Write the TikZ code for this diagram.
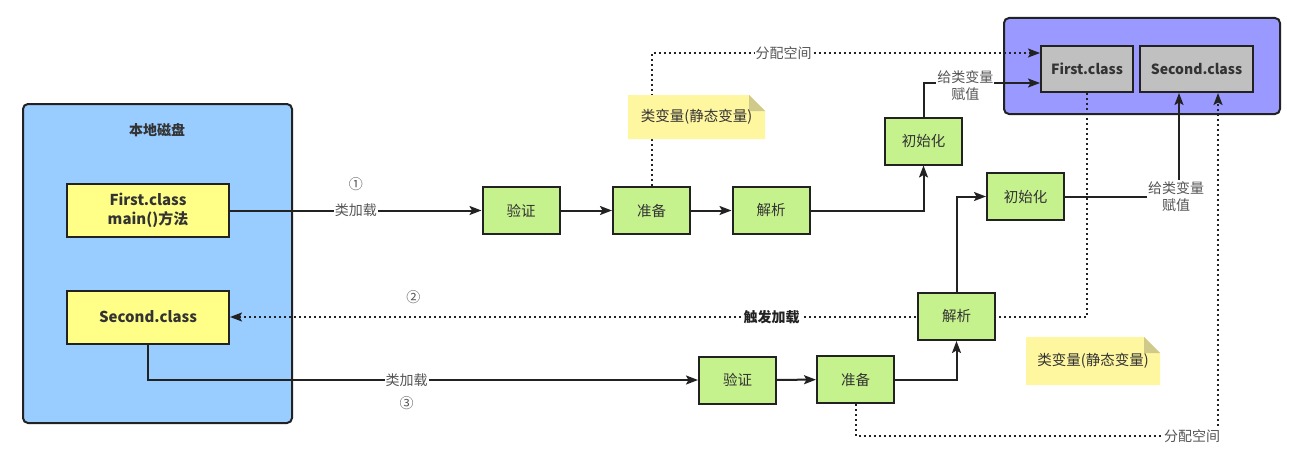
\documentclass[tikz,border=0pt]{standalone}
\usepackage{fontspec}
\setmainfont{Noto Sans CJK SC}
\usetikzlibrary{arrows.meta}
\pgfdeclarelayer{bg}
\pgfdeclarelayer{edges}
\pgfsetlayers{bg,edges,main}
\definecolor{diskblue}{HTML}{99CCFF}
\definecolor{heapblue}{HTML}{9999FF}
\definecolor{clsyellow}{HTML}{FFFF88}
\definecolor{stepgreen}{HTML}{C6F28E}
\definecolor{memgray}{HTML}{C0C0C0}
\definecolor{notey}{HTML}{FFF6A0}
\definecolor{notefold}{HTML}{CFC98A}
\definecolor{ink}{HTML}{222222}
\definecolor{txt}{HTML}{333333}
\definecolor{lbltxt}{HTML}{555555}
\tikzset{
  container/.style={draw=ink, line width=2pt, rounded corners=5pt},
  stepbox/.style={draw=ink, fill=stepgreen, line width=2pt, minimum width=77pt, minimum height=47pt, inner sep=0pt, font=\fontsize{14.5}{16}\selectfont, text=txt},
  clsbox/.style={draw=ink, fill=clsyellow, line width=2pt, minimum width=162pt, minimum height=53pt, inner sep=0pt, align=center, font=\fontsize{15}{19}\selectfont\bfseries, text=txt},
  membox/.style={draw=ink, fill=memgray, line width=2pt, minimum height=46pt, inner sep=0pt, font=\fontsize{14}{16}\selectfont\bfseries, text=txt},
  notebox/.style={minimum width=137pt, minimum height=44pt, inner sep=0pt, font=\fontsize{14.5}{16}\selectfont, text=txt,
    path picture={
      \fill[notey] (path picture bounding box.south west) -- (path picture bounding box.north west)
        -- ([xshift=-16pt]path picture bounding box.north east) -- ([yshift=-16pt]path picture bounding box.north east)
        -- (path picture bounding box.south east) -- cycle;
      \fill[notefold] ([xshift=-16pt]path picture bounding box.north east) -- ([yshift=-16pt]path picture bounding box.north east)
        -- ([xshift=-16pt,yshift=-16pt]path picture bounding box.north east) -- cycle;
    }},
  flow/.style={draw=ink, line width=2pt, -{Stealth[length=12pt,width=9pt,inset=2.5pt]}},
  dots/.style={draw=ink, line width=2pt, dash pattern=on 2pt off 3pt, -{Stealth[length=12pt,width=9pt,inset=2.5pt]}},
  lbl/.style={fill=white, inner sep=1pt, font=\fontsize{14}{17}\selectfont, text=lbltxt, align=center},
  num/.style={inner sep=0pt, font=\fontsize{14}{16}\selectfont, text=lbltxt},
}
\begin{document}
\begin{tikzpicture}[x=1pt, y=-1pt]
\useasboundingbox (0,0) rectangle (1293,452);
% containers
\begin{pgfonlayer}{bg}
\fill[white] (0,0) rectangle (1293,452);
\draw[container, fill=diskblue] (23,104) rectangle (292,423);
\draw[container, fill=heapblue] (1004,18) rectangle (1280,114);
\end{pgfonlayer}
\node[font=\fontsize{14}{16}\selectfont\bfseries, text=txt] (disk) at (157,130) {本地磁盘};
% class files
\node[clsbox] (FC) at (148,210.5) {First.class\\main()方法};
\node[clsbox] (SC) at (148,317) {Second.class};
% method area
\node[membox, minimum width=92pt] (M1) at (1087,69) {First.class};
\node[membox, minimum width=113pt] (M2) at (1196.5,69) {Second.class};
% first chain
\node[stepbox] (V1) at (521,210.5) {验证};
\node[stepbox] (P1) at (651.5,210.5) {准备};
\node[stepbox] (J1) at (771,210.5) {解析};
\node[stepbox] (I1) at (923.5,141) {初始化};
% second chain
\node[stepbox] (V2) at (737.5,380) {验证};
\node[stepbox] (P2) at (855.5,379.5) {准备};
\node[stepbox] (J2) at (956.5,316.5) {解析};
\node[stepbox] (I2) at (1025.5,196.5) {初始化};
% notes
\node[notebox] (N1) at (696.5,117) {类变量(静态变量)};
\node[notebox, minimum width=134pt, minimum height=48pt] (N2) at (1093,361) {类变量(静态变量)};
\coordinate (C2) at (1218,436);
\begin{pgfonlayer}{edges}
\draw[flow] (FC.east) -- node[lbl] {类加载} node[num, yshift=26pt] {①} (V1.west);
\draw[flow] (V1) -- (P1);
\draw[flow] (P1) -- (J1);
\draw[flow] (J1.east) -| (I1.south);
\draw[flow] (I1.north) |- node[lbl, pos=0.68, yshift=-3pt] {给类变量\\赋值} ([yshift=-14pt]M1.west);
\draw[dots] (P1.north) |- node[lbl, pos=0.67] {分配空间} ([yshift=16pt]M1.west);
\draw[flow] (SC.south) |- node[lbl, pos=0.735] {类加载} node[num, pos=0.735, yshift=-23pt] {③} (V2.west);
\draw[flow] (V2) -- (P2);
\draw[flow] (P2.east) -| (J2.south);
\draw[flow] (J2.north) |- (I2.west);
\draw[flow] (I2.east) -| node[lbl, pos=0.5, xshift=-3pt] {给类变量\\赋值} ([xshift=-17.5pt]M2.south);
\draw[dots] (M1.south) |- node[lbl, pos=0.684, font=\fontsize{14}{15}\selectfont\bfseries, text=ink] {触发加载} node[num, pos=0.893, yshift=20pt] {②} (SC.east);
\draw[dots] (P2.south) |- (C2) node[lbl, xshift=-26pt] {分配空间} -- ([xshift=21.5pt]M2.south);
\end{pgfonlayer}
\end{tikzpicture}
\end{document}
